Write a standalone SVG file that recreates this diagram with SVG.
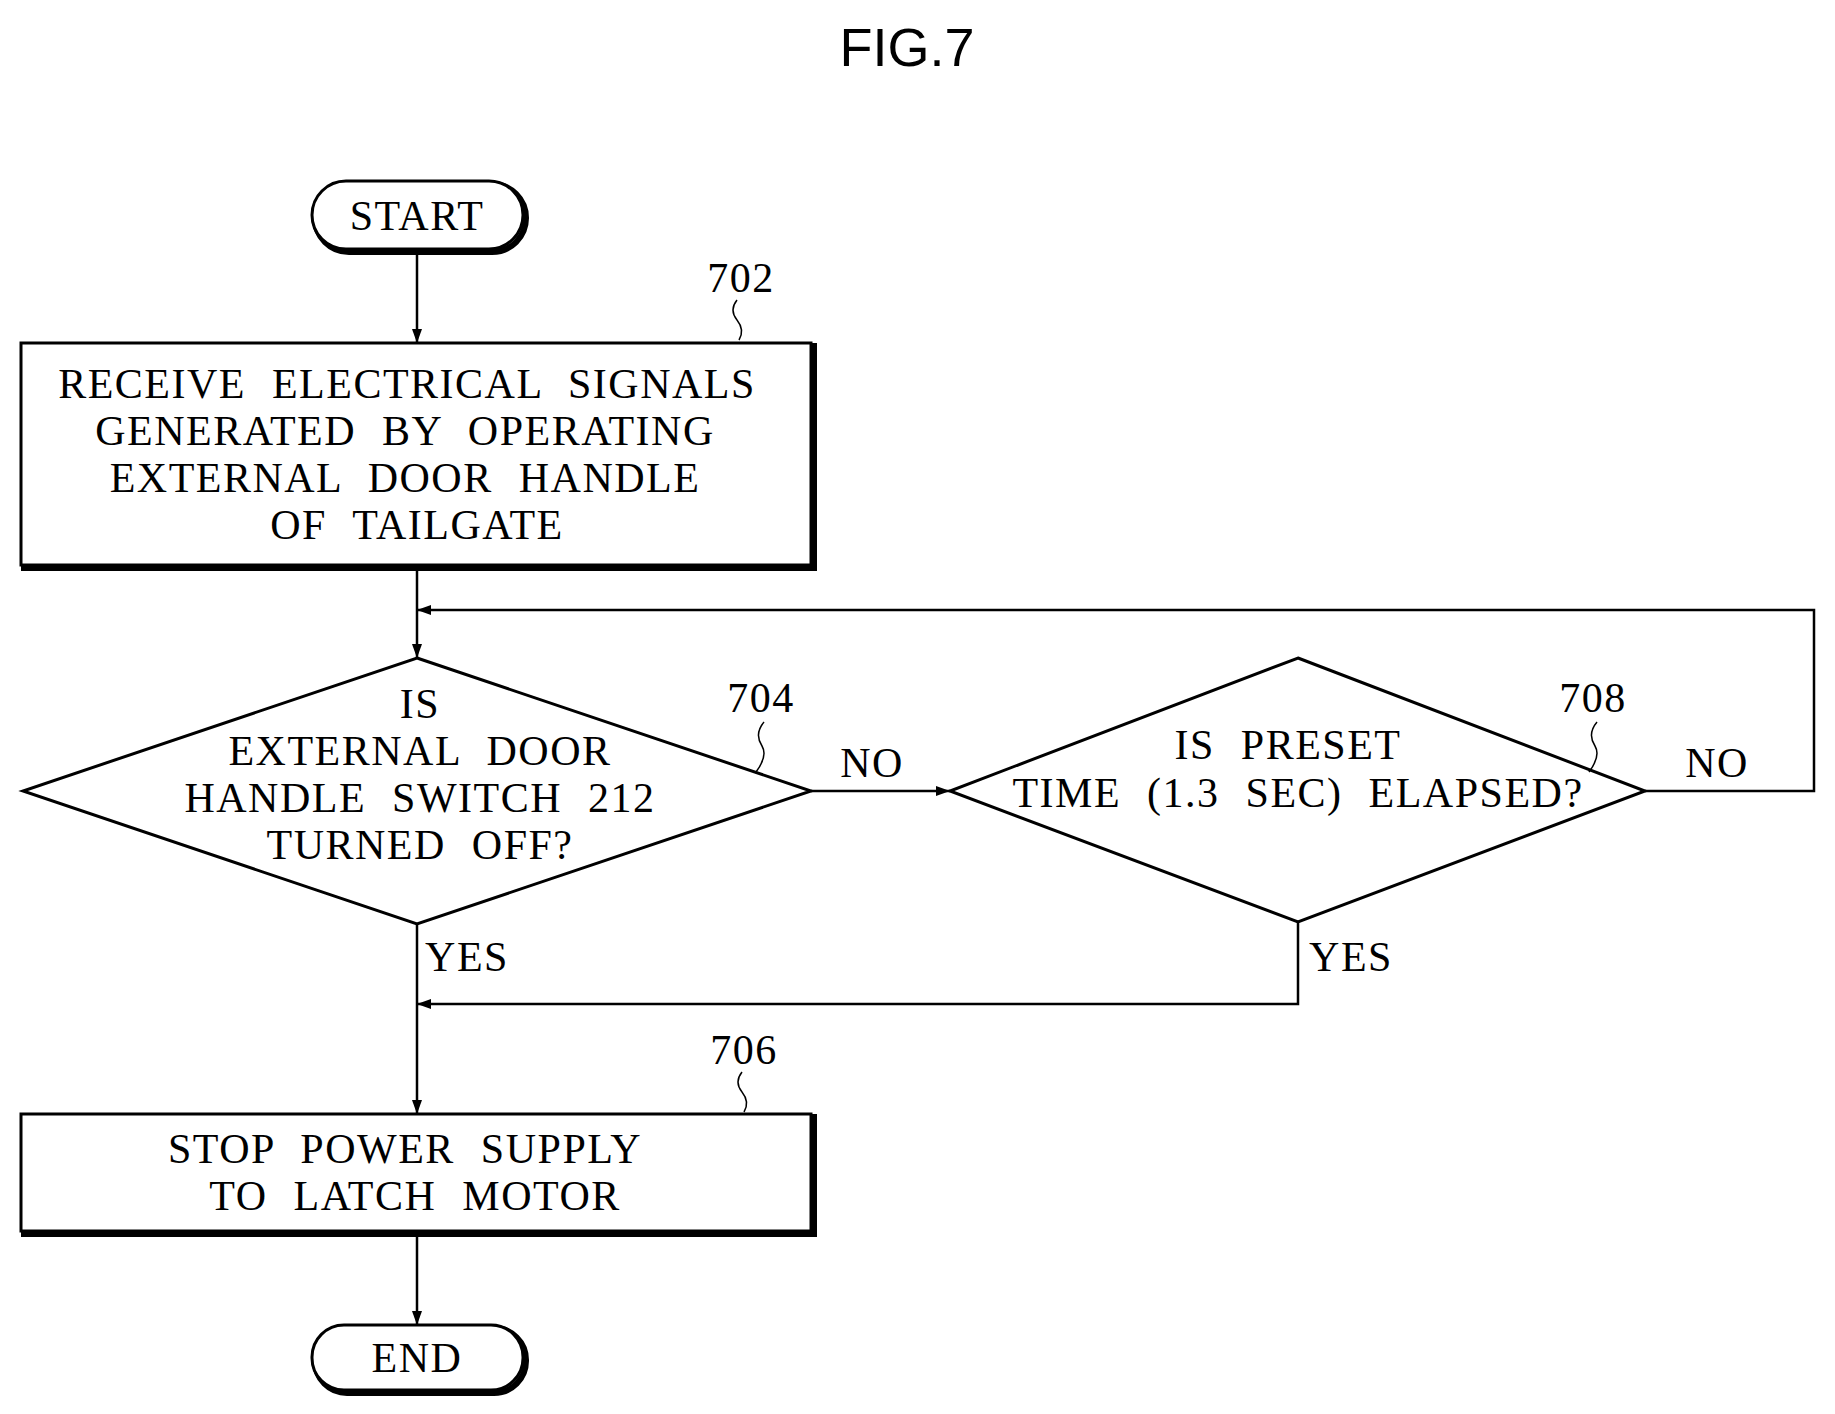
<svg xmlns="http://www.w3.org/2000/svg" width="1835" height="1414" viewBox="0 0 1835 1414">
<defs>
<style>
.t{font-family:"Liberation Serif",serif;font-size:42px;fill:#000;text-anchor:middle;dominant-baseline:central;letter-spacing:1.5px;word-spacing:14px}
.s{fill:#fff;stroke:#000;stroke-width:3}
.sh{fill:none;stroke:#000;stroke-width:6}
.c{fill:none;stroke:#000;stroke-width:2.5}
.l{fill:none;stroke:#000;stroke-width:1.5}
</style>
<marker id="a" markerWidth="14" markerHeight="10" refX="14" refY="5" orient="auto" markerUnits="userSpaceOnUse"><path d="M0,0 L14,5 L0,10 Z" fill="#000"/></marker>
</defs>
<rect width="1835" height="1414" fill="#fff"/>
<text x="907" y="47" style="font-family:'Liberation Sans',sans-serif;font-size:54px;text-anchor:middle;dominant-baseline:central">FIG.7</text>
<g id="connectors">
<path class="c" d="M417 249 V343" marker-end="url(#a)"/>
<path class="c" d="M417 565 V658" marker-end="url(#a)"/>
<path class="c" d="M811 791 H950" marker-end="url(#a)"/>
<path class="c" d="M1645 791 H1814 V610 H417" marker-end="url(#a)"/>
<path class="c" d="M417 924 V1114" marker-end="url(#a)"/>
<path class="c" d="M1298 922 V1004 H417" marker-end="url(#a)"/>
<path class="c" d="M417 1231 V1325" marker-end="url(#a)"/>
<text class="t" x="872" y="763">NO</text>
<text class="t" x="1717" y="763">NO</text>
<text class="t" x="467" y="957">YES</text>
<text class="t" x="1351" y="957">YES</text>
</g>
<g id="start">
<rect x="315" y="184" width="211" height="68" rx="34" class="sh"/>
<rect x="312" y="181" width="211" height="68" rx="34" class="s"/>
<text class="t" x="417" y="216">START</text>
</g>
<g id="n702">
<rect x="24" y="346" width="790" height="222" class="sh"/>
<rect x="21" y="343" width="790" height="222" class="s"/>
<text class="t" x="407" y="384">RECEIVE  ELECTRICAL  SIGNALS</text>
<text class="t" x="405" y="431">GENERATED  BY  OPERATING</text>
<text class="t" x="405" y="478">EXTERNAL  DOOR  HANDLE</text>
<text class="t" x="417" y="525">OF  TAILGATE</text>
<text class="t" x="741" y="278">702</text>
<path class="l" d="M737 300 q-8 10 0 20 q8 10 2 20"/>
</g>
<g id="n704">
<polygon points="417,658 811,791 417,924 23,791" class="s" stroke-width="4"/>
<text class="t" x="420" y="704">IS</text>
<text class="t" x="420" y="751">EXTERNAL  DOOR</text>
<text class="t" x="420" y="798">HANDLE  SWITCH  212</text>
<text class="t" x="420" y="845">TURNED  OFF?</text>
<text class="t" x="761" y="698">704</text>
<path class="l" d="M764 722 q-10 12 -2 24 q6 10 -6 26"/>
</g>
<g id="n708">
<polygon points="1298,658 1645,791 1298,922 950,791" class="s" stroke-width="4"/>
<text class="t" x="1288" y="745">IS  PRESET</text>
<text class="t" x="1298" y="793">TIME  (1.3  SEC)  ELAPSED?</text>
<text class="t" x="1593" y="698">708</text>
<path class="l" d="M1597 722 q-10 12 -2 24 q6 10 -6 26"/>
</g>
<g id="n706">
<rect x="24" y="1117" width="790" height="117" class="sh"/>
<rect x="21" y="1114" width="790" height="117" class="s"/>
<text class="t" x="405" y="1149">STOP  POWER  SUPPLY</text>
<text class="t" x="415" y="1196">TO  LATCH  MOTOR</text>
<text class="t" x="744" y="1050">706</text>
<path class="l" d="M742 1072 q-8 10 0 20 q8 10 2 20"/>
</g>
<g id="end">
<rect x="315" y="1328" width="211" height="65" rx="32" class="sh"/>
<rect x="312" y="1325" width="211" height="65" rx="32" class="s"/>
<text class="t" x="417" y="1358">END</text>
</g>
</svg>
